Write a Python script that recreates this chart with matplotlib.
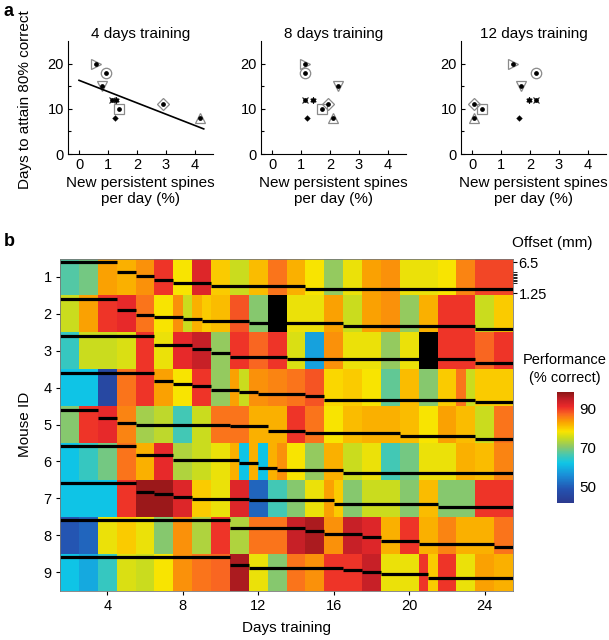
import numpy as np
import matplotlib.pyplot as plt
from matplotlib.colors import LinearSegmentedColormap

plt.rcParams['font.family'] = ['Liberation Sans', 'DejaVu Sans']

# ----------------------------------------------------------------------
# Panel a: days to 80 % correct vs. new persistent spines
# ----------------------------------------------------------------------
days_to_80 = [20, 18, 15, 12, 12, 10, 8, 11, 8]
spines_4d = [0.59, 0.94, 0.78, 1.13, 1.28, 1.38, 1.24, 2.91, 4.17]
spines_8d = [1.12, 1.12, 2.26, 1.12, 1.40, 1.72, 1.22, 1.93, 2.09]
spines_12d = [1.41, 2.22, 1.70, 2.19, 1.95, 0.35, 1.61, 0.06, 0.06]
panel_titles = ['4 days training', '8 days training', '12 days training']
fit_4d = (-2.5, 16.3)          # slope, intercept of the line in the 4-day panel
fit_4d_range = (0.0, 4.3)

marker_styles = ['>', 'o', 'v', 'x', (6, 2, 0), 's', '+', 'D', '^']

# ----------------------------------------------------------------------
# Panel b: performance (% correct) per mouse, days 2..25
# ----------------------------------------------------------------------
nan = np.nan
train_days = np.arange(2, 26)
perf_m1 = [67, 69, 83, 82, 84, 90, 78, 92, 80, 75, 81, 86, 82, 78, 71, 77, 83, 84, 77, 77, 78, 85, 89, 89]
perf_m2 = [75, 83, 90, 91, 86, 78, 80, 81, 81, 88, 70, nan, 77, 77, 83, 75, 83, 84, 71, 82, 90, 90, 75, 80]
perf_m3 = [65, 75, 75, 76, 90, 77, 91, 94, 71, 90, 87, 90, 76, 58, 84, 77, 77, 71, 77, nan, 90, 90, 87, 90]
perf_m4 = [62, 62, 46, 86, 90, 83, 78, 90, 71, 79, 84, 85, 86, 88, 79, 80, 78, 68, 81, 70, 80, 80, 80, 80]
perf_m5 = [70, 90, 91, 85, 72, 74, 66, 75, 86, 86, 82, 82, 90, 86, 78, 81, 82, 82, 81, 78, 83, 81, 75, 86]
perf_m6 = [62, 65, 69, 86, 82, 91, 73, 75, 77, 72, 72, 83, 78, 71, 82, 75, 77, 66, 69, 77, 77, 82, 81, 85]
perf_m7 = [62, 62, 62, 90, 97, 97, 92, 80, 77, 92, 51, 66, 70, 77, 81, 70, 75, 75, 70, 81, 70, 70, 90, 90]
perf_m8 = [49, 51, 77, 80, 77, 70, 84, 73, 90, 73, 86, 86, 94, 96, 84, 94, 92, 82, 90, 82, 85, 82, 82, 86]
perf_m9 = [62, 59, 65, 76, 75, 78, 84, 86, 87, 96, 77, 70, 86, 84, 90, 90, 94, 77, 77, 85, 90, 77, 83, 82]

# days with two sessions: (mouse, day) -> (first half, second half)
split_cells = {
    (2, 8): (84, 75), (2, 9): (82, 80),
    (4, 11): (83, 75), (4, 23): (86, 75),
    (6, 11): (82, 62), (6, 12): (82, 62), (6, 13): (82, 84),
    (7, 16): (83, 80),
    (9, 21): (90, 80),
}

# imaging offset (mm): (day the offset starts, offset)
offset_m1 = [(1.5, 6.5), (4.5, 4.9), (5.5, 4.2), (6.5, 3.55), (7.5, 2.9), (9.5, 2.45), (14.5, 1.95)]
offset_m2 = [(1.5, 6.5), (4.5, 4.55), (5.5, 3.85), (6.5, 3.5), (8.0, 3.15), (9.0, 2.85), (11.5, 2.5),
             (16.5, 1.95), (23.5, 1.4)]
offset_m3 = [(1.5, 6.5), (6.5, 5.0), (8.5, 4.2), (9.5, 3.55), (10.5, 2.85), (13.5, 2.55), (23.5, 2.0)]
offset_m4 = [(1.5, 6.5), (6.5, 5.05), (7.5, 4.6), (8.5, 4.2), (9.5, 3.6), (11.0, 3.2), (12.0, 2.95),
             (14.5, 2.5), (15.5, 1.95), (23.5, 1.5)]
offset_m5 = [(1.5, 6.5), (3.5, 5.05), (4.5, 4.2), (5.5, 3.9), (10.5, 3.65), (12.5, 2.9), (14.5, 2.5),
             (19.5, 2.1), (23.5, 1.5)]
offset_m6 = [(1.5, 6.5), (5.5, 5.1), (7.5, 4.25), (11.0, 3.65), (12.0, 2.95), (13.0, 2.55), (16.5, 2.05)]
offset_m7 = [(1.5, 6.5), (5.5, 5.1), (6.5, 4.65), (7.5, 4.2), (8.5, 3.85), (11.5, 3.65), (16.0, 3.0),
             (21.5, 2.5)]
offset_m8 = [(1.5, 6.5), (10.5, 5.15), (14.5, 4.7), (15.5, 4.2), (17.5, 3.7), (18.5, 3.0), (20.5, 2.5),
             (24.5, 2.0)]
offset_m9 = [(1.5, 6.5), (10.5, 5.2), (11.5, 4.7), (16.5, 4.35), (17.5, 3.95), (18.5, 3.7), (21.0, 3.05)]

perf = np.array([perf_m1, perf_m2, perf_m3, perf_m4, perf_m5, perf_m6, perf_m7, perf_m8, perf_m9],
                dtype=float)
offsets = [offset_m1, offset_m2, offset_m3, offset_m4, offset_m5, offset_m6, offset_m7, offset_m8, offset_m9]

PERF_MIN, PERF_MAX = 42, 98
OFF_TOP, OFF_BOT = 6.5, 1.25

# jet-like map with the slightly muted tones of the printed figure
_stops = [0.0, 0.12, 0.25, 0.36, 0.44, 0.51, 0.59, 0.645, 0.73, 0.80, 0.87, 0.94, 1.0]
_cols = ['#2b3a8f', '#2452b0', '#1a8fd8', '#0fc6e6', '#4cc8ac', '#8ec866', '#cbdc1c', '#fae400',
         '#faa400', '#fa6a20', '#ec2a2a', '#c01e26', '#8e1616']
cmap = LinearSegmentedColormap.from_list('jet_print', list(zip(_stops, _cols)))
cmap.set_bad('black')


def depth(off):
    """Position of an offset inside one mouse row (0 = row top, 1 = row bottom)."""
    return 0.095 + (OFF_TOP - off) / (OFF_TOP - OFF_BOT) * 0.845


W, H = 609, 640
fig = plt.figure(figsize=(W / 100, H / 100), dpi=100)

# ----------------------------------------------------------------------
# panel a
# ----------------------------------------------------------------------
lefts = [68, 261, 461]
for k, (xs, title) in enumerate(zip([spines_4d, spines_8d, spines_12d], panel_titles)):
    ax = fig.add_axes([lefts[k] / W, 1 - 154 / H, 145 / W, 113 / H])
    for x, y, m in zip(xs, days_to_80, marker_styles):
        if m in ('x', '+') or isinstance(m, tuple):
            ax.plot(x, y, marker=m, ms=4.5, mew=0.8, color='#222222', ls='none')
        else:
            size = 6.5 if m in ('s', 'D') else 7.5
            ax.plot(x, y, marker=m, ms=size, mew=0.9, mfc='none', mec='#8a8a8a', ls='none')
        ax.plot(x, y, marker='o', ms=2.4, color='black', ls='none')
    if k == 0:
        fx = np.array(fit_4d_range)
        ax.plot(fx, fit_4d[0] * fx + fit_4d[1], color='black', lw=1.2)
    ax.set_xlim(-0.38, 4.62)
    ax.set_ylim(0, 25)
    ax.set_xticks([0, 1, 2, 3, 4])
    ax.set_yticks([0, 10, 20])
    ax.set_yticks([5, 15], minor=True)
    ax.tick_params(direction='in', length=3, width=0.8, labelsize=10.5, pad=3)
    ax.tick_params(which='minor', direction='in', length=2, width=0.8)
    for s in ('top', 'right'):
        ax.spines[s].set_visible(False)
    for s in ('left', 'bottom'):
        ax.spines[s].set_linewidth(0.8)
    ax.set_title(title, fontsize=11, pad=2)
    ax.set_xlabel('New persistent spines\nper day (%)', fontsize=11, labelpad=3, linespacing=1.15)

fig.text(25 / W, 1 - 100 / H, 'Days to attain 80% correct', rotation=90, ha='center', va='center',
         fontsize=11)
fig.text(4 / W, 1 - 12 / H, 'a', fontsize=13, fontweight='bold', ha='left', va='center')
fig.text(4 / W, 1 - 241 / H, 'b', fontsize=13, fontweight='bold', ha='left', va='center')

# ----------------------------------------------------------------------
# panel b
# ----------------------------------------------------------------------
axh = fig.add_axes([60 / W, 1 - 590.5 / H, 453 / W, 332 / H])

grid = np.repeat(perf, 2, axis=1)
for (m, d), (v1, v2) in split_cells.items():
    j = 2 * (d - train_days[0])
    grid[m - 1, j] = v1
    grid[m - 1, j + 1] = v2
x_edges = np.arange(train_days[0] - 0.5, train_days[-1] + 0.51, 0.5)
y_edges = np.arange(0.5, len(perf) + 0.51, 1.0)

mesh = axh.pcolormesh(x_edges, y_edges, np.ma.masked_invalid(grid), cmap=cmap,
                      vmin=PERF_MIN, vmax=PERF_MAX, shading='flat')

x_end = train_days[-1] + 0.5
for m, steps in enumerate(offsets, start=1):
    starts = [s for s, _ in steps]
    ends = starts[1:] + [x_end]
    for (s, off), e in zip(steps, ends):
        axh.hlines(m - 0.5 + depth(off), s, e, color='black', lw=2.3, capstyle='butt')

axh.set_xlim(train_days[0] - 0.5, x_end)
axh.set_ylim(len(perf) + 0.5, 0.5)
axh.set_xticks([4, 8, 12, 16, 20, 24])
axh.set_yticks(np.arange(1, 10))
axh.tick_params(direction='out', length=3, width=0.8, labelsize=10.5, pad=3)
for s in axh.spines.values():
    s.set_linewidth(0.6)
    s.set_color('#777777')
axh.set_xlabel('Days training', fontsize=11, labelpad=6)
axh.set_ylabel('Mouse ID', fontsize=11, labelpad=8)

# offset scale for the first mouse row
axo = axh.twinx()
axo.set_ylim(len(perf) + 0.5, 0.5)
axo.set_yticks([0.5 + depth(OFF_TOP), 0.5 + depth(OFF_BOT)], ['6.5', '1.25'])
axo.set_yticks([0.5 + depth(v) for v in np.arange(3.0, 4.9, 0.25)], minor=True)
axo.tick_params(direction='out', length=3, width=0.8, labelsize=10.5, pad=1)
axo.tick_params(which='minor', direction='out', length=3, width=0.6)
for s in axo.spines.values():
    s.set_visible(False)
fig.text(552 / W, 1 - 243 / H, 'Offset (mm)', ha='center', va='center', fontsize=11)

# colour bar
cax = fig.add_axes([557 / W, 1 - 502.7 / H, 17 / W, 110.4 / H])
cb = fig.colorbar(mesh, cax=cax, ticks=[50, 70, 90])
cb.outline.set_visible(False)
cax.tick_params(length=0, labelsize=11, pad=4)
fig.text(565 / W, 1 - 360 / H, 'Performance', ha='center', va='center', fontsize=10.5)
fig.text(565 / W, 1 - 378 / H, '(% correct)', ha='center', va='center', fontsize=10.5)

fig.savefig('out.png', dpi=100)
